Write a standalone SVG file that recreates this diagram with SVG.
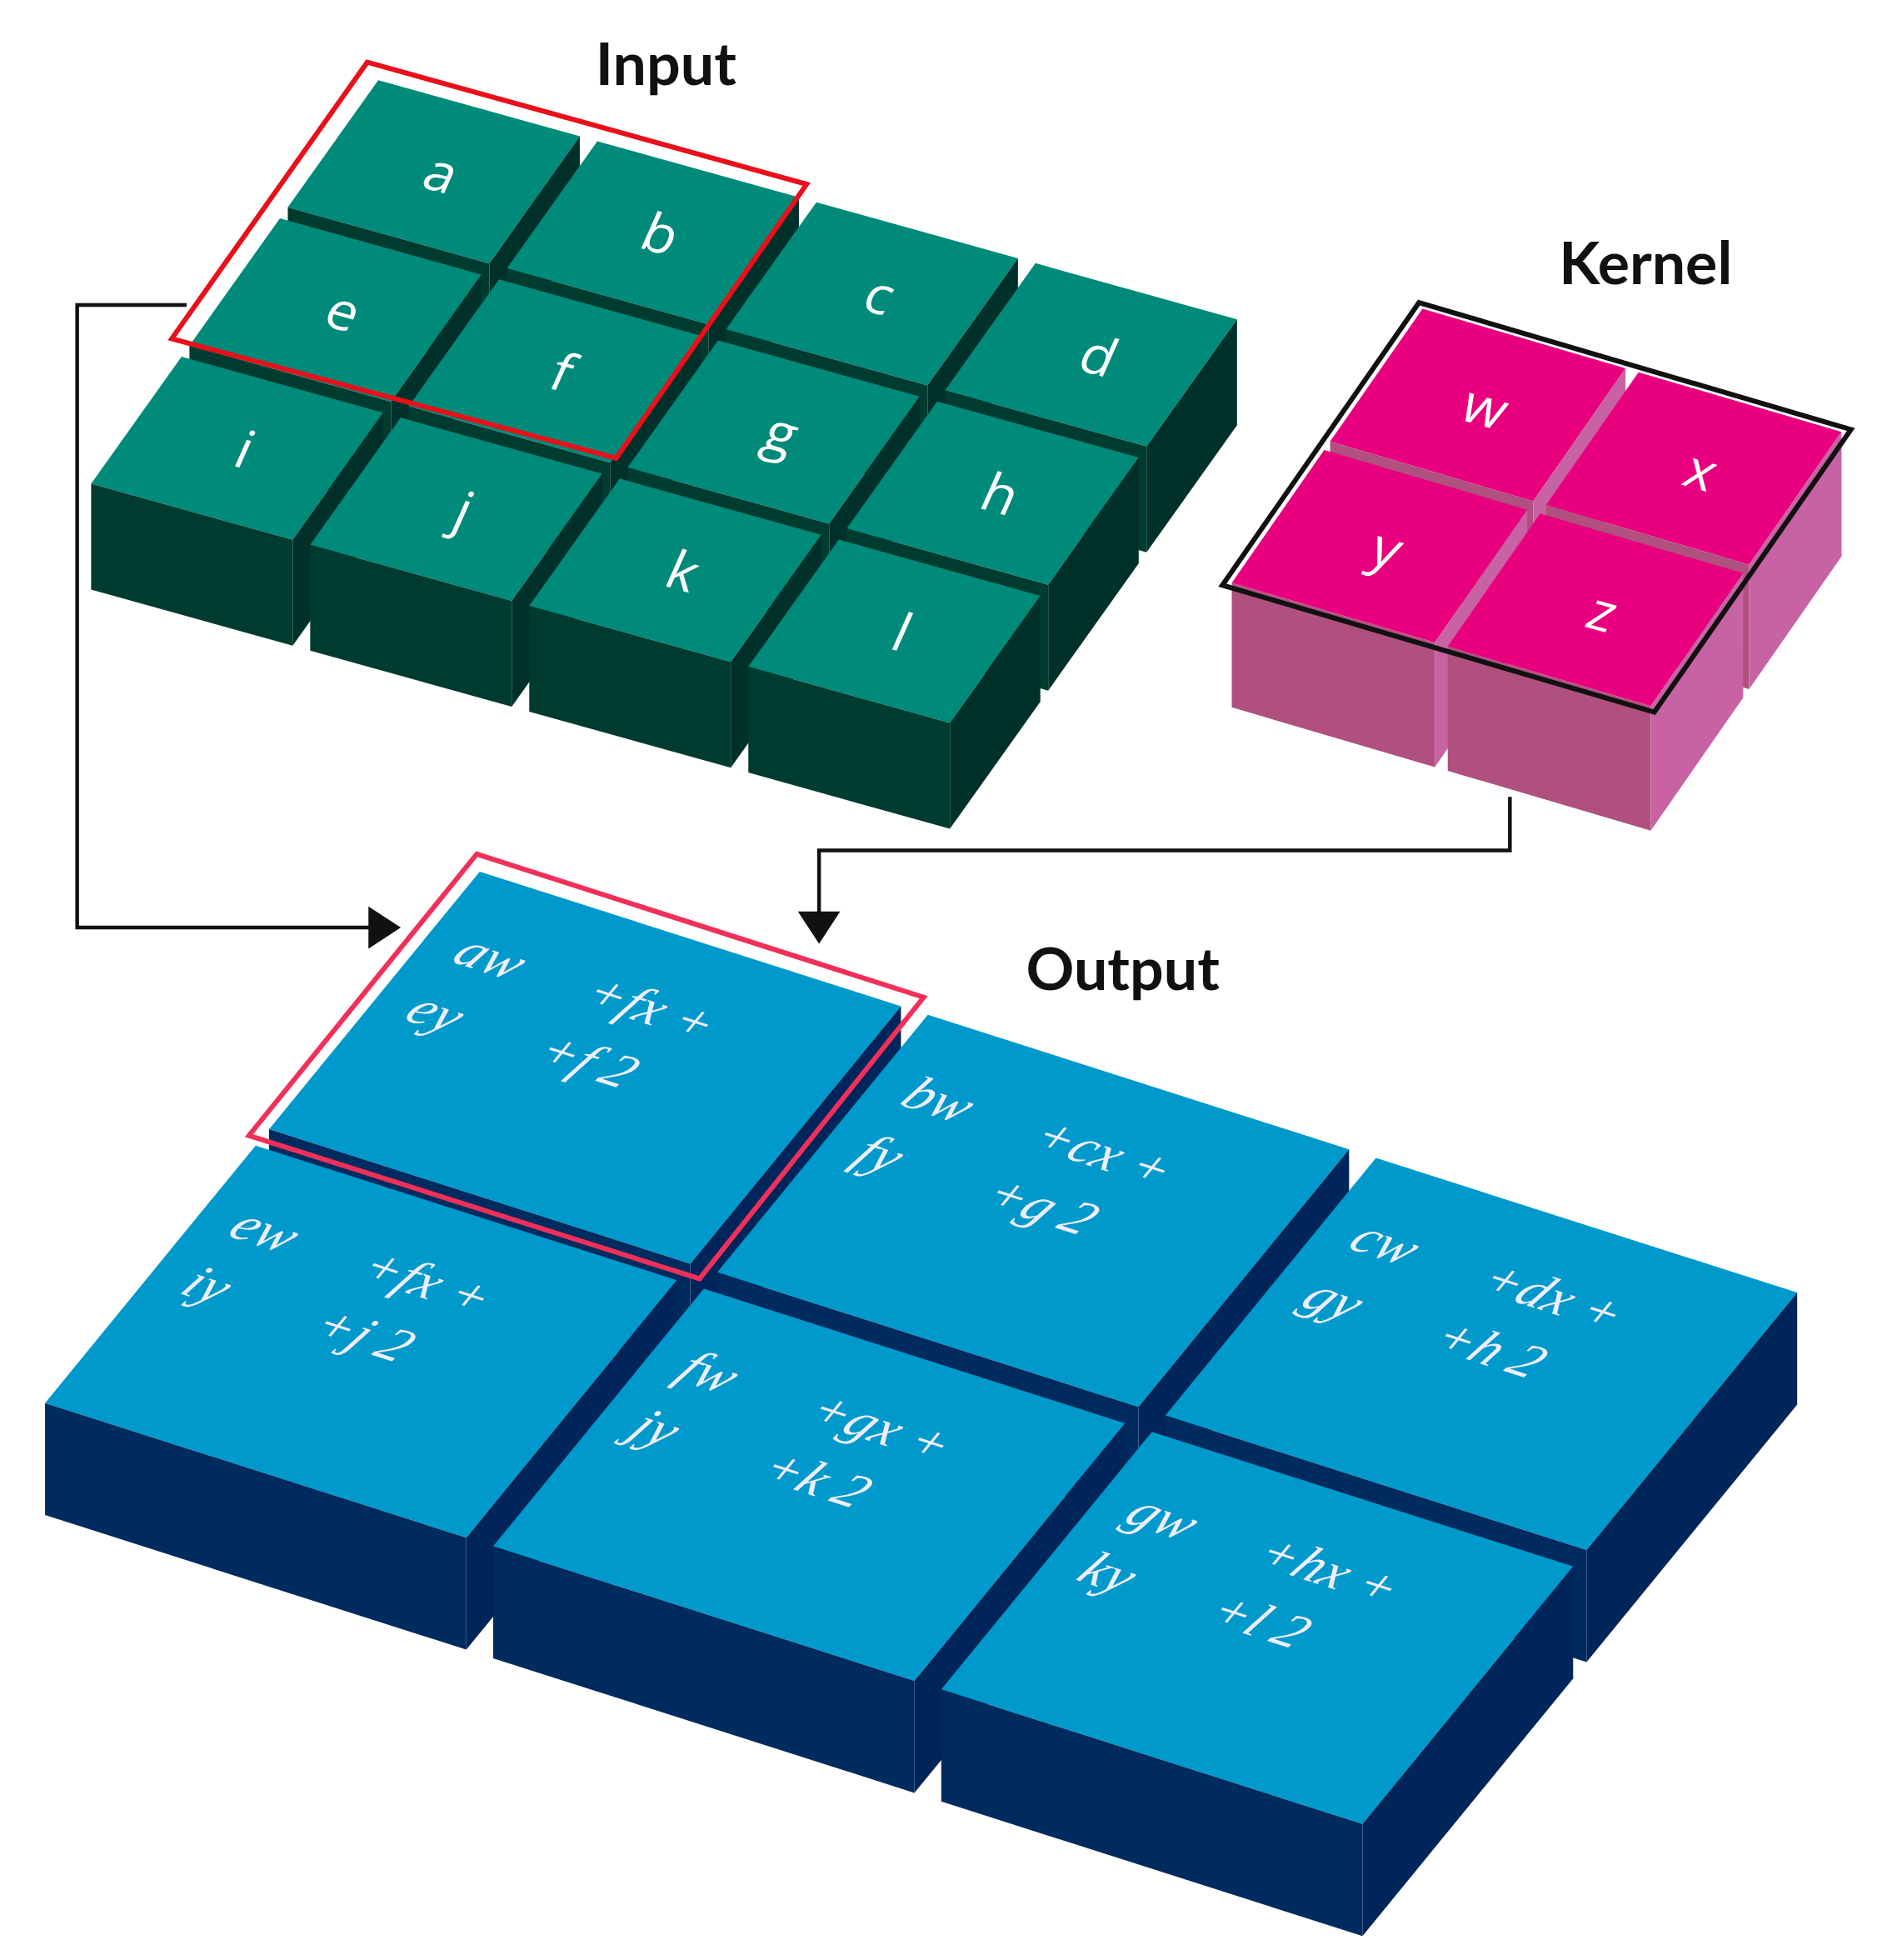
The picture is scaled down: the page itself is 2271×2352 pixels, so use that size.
<svg xmlns="http://www.w3.org/2000/svg" width="2271" height="2352" viewBox="0 0 2271 2352">
<style>
.it{fill:#008a7a}.if{fill:#003b30}.ir{fill:#00302a}
.kt{fill:#e8007f}.kf{fill:#b0507f}.kr{fill:#c763a3}
.ot{fill:#0099cc}.of{fill:#002b5e}.or{fill:#00255a}
.lab{font-family:Lato,"Liberation Sans",sans-serif;font-weight:700;font-size:48px;fill:#111}
.il{font-family:"Open Sans","Liberation Sans",sans-serif;font-size:44px;fill:#fff;text-anchor:middle}
.ol{font-family:"Liberation Serif",serif;font-style:italic;font-size:44px;fill:#eef}
.con{fill:none;stroke:#111;stroke-width:3}
</style>
<defs>
<g id="iblk">
<polygon class="it" points="3.88,6.4 165.8,51.48 93.12,153.6 -68.8,108.52"/>
<polygon class="if" points="-68.8,108.52 93.12,153.6 93.12,238.6 -68.8,193.52"/>
<polygon class="ir" points="165.8,51.48 93.12,153.6 93.12,238.6 165.8,136.48"/>
</g>
<g id="kblk">
<polygon class="kt" points="2.83,4.93 165.93,52.87 91.67,159.57 -71.43,111.63"/>
<polygon class="kf" points="-71.43,111.63 91.67,159.57 91.67,259.57 -71.43,211.63"/>
<polygon class="kr" points="165.93,52.87 91.67,159.57 91.67,259.57 165.93,152.87"/>
</g>
<g id="oblk">
<polygon class="ot" points="5.4,10.05 343.8,118.15 174.6,324.95 -163.8,216.85"/>
<polygon class="of" points="-163.8,216.85 174.6,324.95 174.6,414.95 -163.8,306.85"/>
<polygon class="or" points="343.8,118.15 174.6,324.95 174.6,414.95 343.8,208.15"/>
</g>
<marker id="ah" viewBox="0 0 10 10" refX="9" refY="5" markerWidth="7" markerHeight="7" orient="auto" markerUnits="userSpaceOnUse">
<path d="M0,0 L10,5 L0,10 z" fill="#111"/>
</marker>
</defs>
<g transform="scale(1.4941)">
<text class="lab" x="535" y="68" text-anchor="middle">Input</text>
<text class="lab" x="1322" y="228" text-anchor="middle">Kernel</text>
<text class="lab" x="902" y="795" text-anchor="middle">Output</text>

<g id="connectors">
<path class="con" d="M150,245 H62 V745 H305"/>
<path d="M296,728 L322,745 L296,762 z" fill="#111"/>
<path class="con" d="M1213,640 V683 H658 V740"/>
<path d="M641,732 L658,758 L675,732 z" fill="#111"/>
</g>

<g id="input">
<g transform="translate(300,58)"><use href="#iblk"/><text class="il" transform="translate(48.5,95) matrix(0.963,0.268,-0.4,0.9,0,0)">a</text></g>
<g transform="translate(476,107)"><use href="#iblk"/><text class="il" transform="translate(48.5,95) matrix(0.963,0.268,-0.4,0.9,0,0)">b</text></g>
<g transform="translate(221,169)"><use href="#iblk"/><text class="il" transform="translate(48.5,95) matrix(0.963,0.268,-0.4,0.9,0,0)">e</text></g>
<g transform="translate(652,156)"><use href="#iblk"/><text class="il" transform="translate(48.5,95) matrix(0.963,0.268,-0.4,0.9,0,0)">c</text></g>
<g transform="translate(397,218)"><use href="#iblk"/><text class="il" transform="translate(48.5,95) matrix(0.963,0.268,-0.4,0.9,0,0)">f</text></g>
<g transform="translate(142,280)"><use href="#iblk"/><text class="il" transform="translate(48.5,95) matrix(0.963,0.268,-0.4,0.9,0,0)">i</text></g>
<g transform="translate(828,205)"><use href="#iblk"/><text class="il" transform="translate(48.5,95) matrix(0.963,0.268,-0.4,0.9,0,0)">d</text></g>
<g transform="translate(573,267)"><use href="#iblk"/><text class="il" transform="translate(48.5,95) matrix(0.963,0.268,-0.4,0.9,0,0)">g</text></g>
<g transform="translate(318,329)"><use href="#iblk"/><text class="il" transform="translate(48.5,95) matrix(0.963,0.268,-0.4,0.9,0,0)">j</text></g>
<g transform="translate(749,316)"><use href="#iblk"/><text class="il" transform="translate(48.5,95) matrix(0.963,0.268,-0.4,0.9,0,0)">h</text></g>
<g transform="translate(494,378)"><use href="#iblk"/><text class="il" transform="translate(48.5,95) matrix(0.963,0.268,-0.4,0.9,0,0)">k</text></g>
<g transform="translate(670,427)"><use href="#iblk"/><text class="il" transform="translate(48.5,95) matrix(0.963,0.268,-0.4,0.9,0,0)">l</text></g>
<polygon points="295,50 648,148 495,368 138,272" fill="none" stroke="#e8101a" stroke-width="4"/>
</g>

<g id="kernel">
<g transform="translate(1140,243)"><use href="#kblk"/><text class="il" transform="translate(47,98) matrix(0.963,0.268,-0.4,0.9,0,0)">w</text></g>
<g transform="translate(1313.5,294)"><use href="#kblk"/><text class="il" transform="translate(47,98) matrix(0.963,0.268,-0.4,0.9,0,0)">x</text></g>
<g transform="translate(1061,356.5)"><use href="#kblk"/><text class="il" transform="translate(47,98) matrix(0.963,0.268,-0.4,0.9,0,0)">y</text></g>
<g transform="translate(1234.5,407.5)"><use href="#kblk"/><text class="il" transform="translate(47,98) matrix(0.963,0.268,-0.4,0.9,0,0)">z</text></g>
<polygon points="1140,243 1487,345 1329,572 982,470" fill="none" stroke="#111" stroke-width="4"/>
</g>

<g id="output">
<g transform="translate(380,690)"><use href="#oblk"/><g transform="matrix(0.952,0.304,-0.634,0.775,0,0)"><text class="ol" x="40" y="90">aw</text><text class="ol" x="150" y="90">+fx +</text><text class="ol" x="40" y="150">ey</text><text class="ol" x="150" y="150">+f 2</text></g></g>
<g transform="translate(740,805)"><use href="#oblk"/><g transform="matrix(0.952,0.304,-0.634,0.775,0,0)"><text class="ol" x="40" y="90">bw</text><text class="ol" x="150" y="90">+cx +</text><text class="ol" x="40" y="150">fy</text><text class="ol" x="150" y="150">+g 2</text></g></g>
<g transform="translate(200,910)"><use href="#oblk"/><g transform="matrix(0.952,0.304,-0.634,0.775,0,0)"><text class="ol" x="40" y="90">ew</text><text class="ol" x="150" y="90">+fx +</text><text class="ol" x="40" y="150">iy</text><text class="ol" x="150" y="150">+j 2</text></g></g>
<g transform="translate(1100,920)"><use href="#oblk"/><g transform="matrix(0.952,0.304,-0.634,0.775,0,0)"><text class="ol" x="40" y="90">cw</text><text class="ol" x="150" y="90">+dx +</text><text class="ol" x="40" y="150">gy</text><text class="ol" x="150" y="150">+h 2</text></g></g>
<g transform="translate(560,1025)"><use href="#oblk"/><g transform="matrix(0.952,0.304,-0.634,0.775,0,0)"><text class="ol" x="40" y="90">fw</text><text class="ol" x="150" y="90">+gx +</text><text class="ol" x="40" y="150">jy</text><text class="ol" x="150" y="150">+k 2</text></g></g>
<g transform="translate(920,1140)"><use href="#oblk"/><g transform="matrix(0.952,0.304,-0.634,0.775,0,0)"><text class="ol" x="40" y="90">gw</text><text class="ol" x="150" y="90">+hx +</text><text class="ol" x="40" y="150">ky</text><text class="ol" x="150" y="150">+l 2</text></g></g>
<polygon points="383,686 742,801 562,1027 200,912" fill="none" stroke="#f0305a" stroke-width="4"/>
</g>
</g>
</svg>
